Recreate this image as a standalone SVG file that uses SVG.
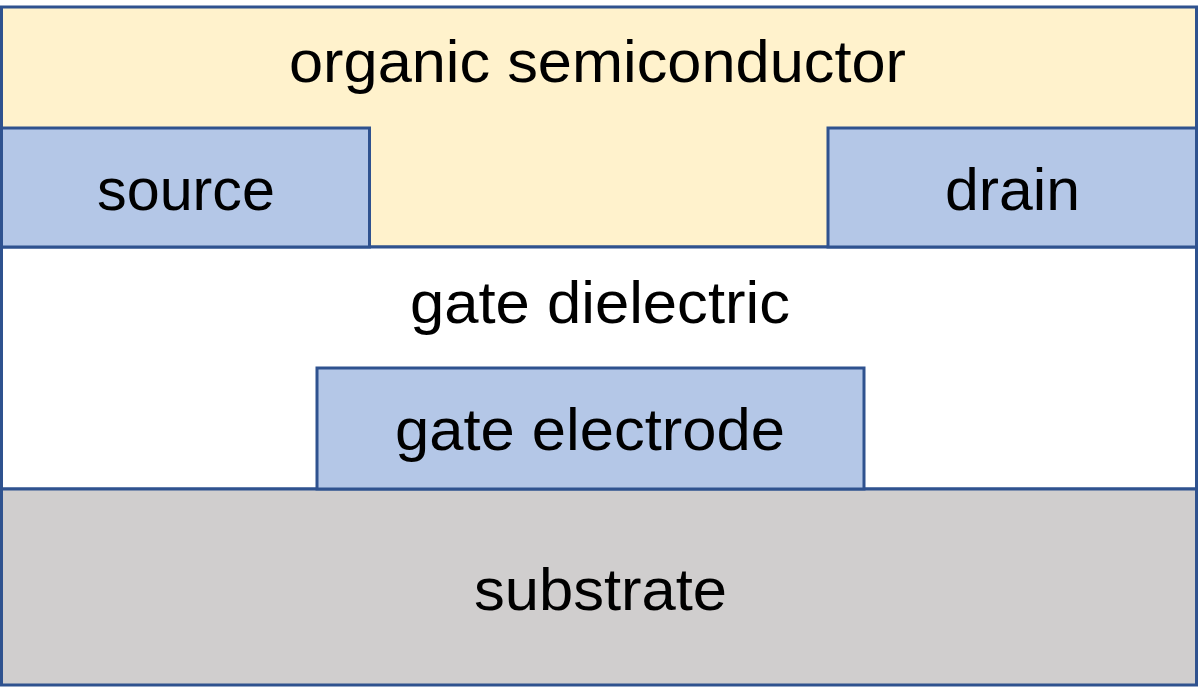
<svg xmlns="http://www.w3.org/2000/svg" width="1200" height="688" viewBox="0 0 1200 688">
<style>
.l{stroke:#2F528F;stroke-width:3}
.t{font-family:"Liberation Sans",Arial,sans-serif;font-size:59px;fill:#000}
</style>
<rect width="1200" height="688" fill="#ffffff"/>
<g id="organic-semiconductor">
<rect class="l" x="1.5" y="7" width="1195" height="240" fill="#FFF2CC"/>
<text class="t" x="289" y="82" textLength="617" lengthAdjust="spacingAndGlyphs">organic semiconductor</text>
</g>
<g id="gate-dielectric">
<rect class="l" x="1.5" y="247" width="1195" height="242" fill="#FFFFFF"/>
<text class="t" x="410" y="323" textLength="380" lengthAdjust="spacingAndGlyphs">gate dielectric</text>
</g>
<g id="substrate">
<rect class="l" x="1.5" y="489" width="1195" height="196" fill="#D0CECE"/>
<text class="t" x="474" y="610" textLength="253" lengthAdjust="spacingAndGlyphs">substrate</text>
</g>
<g id="source">
<rect class="l" x="1.5" y="128" width="368" height="119" fill="#B4C7E7"/>
<text class="t" x="97" y="210" textLength="178" lengthAdjust="spacingAndGlyphs">source</text>
</g>
<g id="drain">
<rect class="l" x="828" y="128" width="368.5" height="119" fill="#B4C7E7"/>
<text class="t" x="945" y="210" textLength="135" lengthAdjust="spacingAndGlyphs">drain</text>
</g>
<g id="gate-electrode">
<rect class="l" x="317" y="368" width="547" height="121" fill="#B4C7E7"/>
<text class="t" x="395" y="450" textLength="390" lengthAdjust="spacingAndGlyphs">gate electrode</text>
</g>
<g id="connectors"/>
</svg>
